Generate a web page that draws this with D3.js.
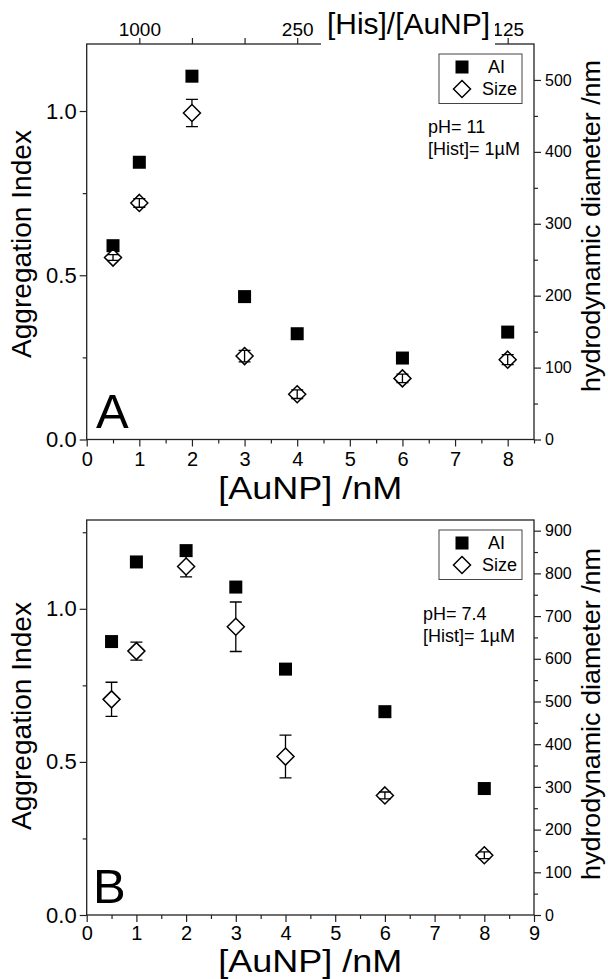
<!DOCTYPE html>
<html>
<head>
<meta charset="utf-8">
<title>Aggregation index and size vs [AuNP]</title>
<script src="https://cdn.jsdelivr.net/npm/d3@7"></script>
<style>
  body { margin: 0; background: #fff; }
  svg text { font-family: 'Liberation Sans', Arial, sans-serif; fill: #000; }
</style>
</head>
<body>
<div id="chart"></div>
<script>
// [AuNP] /nM, shared by both panels
var auNP = [0.5, 1, 2, 3, 4, 6, 8];

// panel A, pH 11
var aiA = [0.59, 0.844, 1.106, 0.435, 0.322, 0.248, 0.327];
var sizeA = [253, 329, 454, 116, 63, 85, 111];
var sizeErrA = [4, 6, 19, 8, 6, 6, 7];

// panel B, pH 7.4
var aiB = [0.893, 1.153, 1.19, 1.071, 0.803, 0.664, 0.413];
var sizeB = [505, 618, 816, 675, 371, 280, 140];
var sizeErrB = [40, 21, 24, 58, 50, 8, 8];

// top axis of A: [His]/[AuNP] with [His] = 1 uM = 1000 nM
var hisConc = 1000;
var hisRatioTicks = [1000, 500, 1000 / 3, 250, 125];
var hisRatioLabels = ["1000", "", "", "250", "125"];

var W = 608, H = 979;
var svg = d3.select("#chart").append("svg")
    .attr("width", W).attr("height", H);

var left = 86.7, right = 534;
var axisColor = "#222";

var panels = [
    { ai: aiA, size: sizeA, err: sizeErrA, top: 44, bottom: 439.5,
      xMax: 8.5, xTicks: d3.range(0, 9), aiMax: 1.204, aiMinor: [0.25, 0.75],
      sizeMax: 550, sizeTicks: d3.range(0, 501, 100), sizeMinor: d3.range(50, 501, 100),
      letter: "A", letterX: 96, letterY: 428, rightTitleY: 226, leftTitleY: 244,
      note: ["pH= 11", "[Hist]= 1\u00b5M"], noteX: 428, noteY: 133,
      xTitleY: 499, xPad: 5, topAxis: true },
    { ai: aiB, size: sizeB, err: sizeErrB, top: 520, bottom: 915,
      xMax: 9, xTicks: d3.range(0, 10), aiMax: 1.29, aiMinor: [0.25, 0.75, 1.25],
      sizeMax: 925, sizeTicks: d3.range(0, 901, 100), sizeMinor: d3.range(50, 901, 100),
      letter: "B", letterX: 93, letterY: 903, rightTitleY: 714, leftTitleY: 716,
      note: ["pH= 7.4", "[Hist]= 1\u00b5M"], noteX: 423, noteY: 620,
      xTitleY: 972, xPad: 4, topAxis: false }
];

function styleAxis(g, size) {
    g.select(".domain").remove();
    g.selectAll(".tick line").attr("stroke", axisColor).attr("stroke-width", 1.2);
    g.selectAll(".tick text").attr("font-size", size);
}

panels.forEach(function(p) {
    var x = d3.scaleLinear().domain([0, p.xMax]).range([left, right]);
    var yL = d3.scaleLinear().domain([0, p.aiMax]).range([p.bottom, p.top]);
    var yR = d3.scaleLinear().domain([0, p.sizeMax]).range([p.bottom, p.top]);
    var g = svg.append("g");

    // frame
    g.append("rect")
        .attr("x", left).attr("y", p.top)
        .attr("width", right - left).attr("height", p.bottom - p.top)
        .attr("fill", "none").attr("stroke", axisColor).attr("stroke-width", 1.3);

    // bottom axis
    g.append("g").attr("transform", "translate(0," + p.bottom + ")")
        .call(d3.axisBottom(x).tickValues(p.xTicks).tickFormat(d3.format("d"))
            .tickSize(7).tickPadding(p.xPad))
        .call(styleAxis, 20);
    g.append("g").attr("transform", "translate(0," + p.bottom + ")")
        .call(d3.axisBottom(x).tickValues(d3.range(0.5, p.xMax + 0.01, 1))
            .tickFormat("").tickSize(4))
        .call(styleAxis, 0);

    // left axis
    g.append("g").attr("transform", "translate(" + left + ",0)")
        .call(d3.axisLeft(yL).tickValues([0, 0.5, 1]).tickFormat(d3.format(".1f"))
            .tickSize(7).tickPadding(3))
        .call(styleAxis, 22);
    g.append("g").attr("transform", "translate(" + left + ",0)")
        .call(d3.axisLeft(yL).tickValues(p.aiMinor).tickFormat("").tickSize(4))
        .call(styleAxis, 0);

    // right axis
    g.append("g").attr("transform", "translate(" + right + ",0)")
        .call(d3.axisRight(yR).tickValues(p.sizeTicks).tickFormat(d3.format("d"))
            .tickSize(7).tickPadding(4))
        .call(styleAxis, 16);
    g.append("g").attr("transform", "translate(" + right + ",0)")
        .call(d3.axisRight(yR).tickValues(p.sizeMinor).tickFormat("").tickSize(4))
        .call(styleAxis, 0);

    // top axis: [His]/[AuNP]
    if (p.topAxis) {
        g.append("g").attr("transform", "translate(0," + p.top + ")")
            .call(d3.axisTop(x).tickValues(hisRatioTicks.map(function(r) { return hisConc / r; }))
                .tickFormat(function(d, i) { return hisRatioLabels[i]; })
                .tickSize(6).tickPadding(2))
            .call(styleAxis, 19);
        g.append("rect")
            .attr("x", 321).attr("y", 10).attr("width", 174).attr("height", 38)
            .attr("fill", "#fff");
        g.append("text")
            .attr("x", 327).attr("y", 34)
            .attr("font-size", 30)
            .attr("textLength", 163).attr("lengthAdjust", "spacingAndGlyphs")
            .text("[His]/[AuNP]");
    }

    // AI squares
    var sq = 13;
    g.selectAll(".ai").data(auNP).enter().append("rect")
        .attr("class", "ai")
        .attr("x", function(d) { return x(d) - sq / 2; })
        .attr("y", function(d, i) { return yL(p.ai[i]) - sq / 2; })
        .attr("width", sq).attr("height", sq)
        .attr("fill", "#000");

    // size diamonds
    var hd = 8.5;
    var diamond = function(cx, cy) {
        return "M" + cx + "," + (cy - hd) + "L" + (cx + hd) + "," + cy +
               "L" + cx + "," + (cy + hd) + "L" + (cx - hd) + "," + cy + "Z";
    };
    g.selectAll(".size").data(auNP).enter().append("path")
        .attr("class", "size")
        .attr("d", function(d, i) { return diamond(x(d), yR(p.size[i])); })
        .attr("fill", "#fff").attr("stroke", "#000").attr("stroke-width", 1.5);

    // error bars, drawn from the marker edge like Origin does
    var eg = g.selectAll(".err").data(auNP).enter().append("g").attr("class", "err");
    eg.append("path")
        .attr("d", function(d, i) {
            var cx = x(d), cy = yR(p.size[i]);
            var t = yR(p.size[i] + p.err[i]), b = yR(p.size[i] - p.err[i]);
            var line;
            if (cy - t > hd) {
                line = "M" + cx + "," + t + "V" + (cy - hd) + "M" + cx + "," + (cy + hd) + "V" + b;
            } else {
                line = "M" + cx + "," + t + "V" + b;
            }
            return line + "M" + (cx - 6) + "," + t + "H" + (cx + 6) +
                   "M" + (cx - 6) + "," + b + "H" + (cx + 6);
        })
        .attr("fill", "none").attr("stroke", "#000").attr("stroke-width", 1.3);

    // legend
    var lt = p.top + 10;
    g.append("rect")
        .attr("x", 439).attr("y", lt).attr("width", 83).attr("height", 49.5)
        .attr("fill", "#fff").attr("stroke", "#444").attr("stroke-width", 1);
    g.append("rect")
        .attr("x", 462 - sq / 2).attr("y", lt + 13 - sq / 2)
        .attr("width", sq).attr("height", sq).attr("fill", "#000");
    g.append("path")
        .attr("d", diamond(462, lt + 35))
        .attr("fill", "#fff").attr("stroke", "#000").attr("stroke-width", 1.5);
    g.append("text").attr("x", 488).attr("y", lt + 19).attr("font-size", 18).text("AI");
    g.append("text").attr("x", 482).attr("y", lt + 41).attr("font-size", 18).text("Size");

    // conditions
    g.append("text").attr("x", p.noteX).attr("y", p.noteY).attr("font-size", 18).text(p.note[0]);
    g.append("text").attr("x", p.noteX).attr("y", p.noteY + 22).attr("font-size", 18).text(p.note[1]);

    // panel letter
    g.append("text").attr("x", p.letterX).attr("y", p.letterY)
        .attr("font-size", 49).text(p.letter);

    // axis titles
    g.append("text")
        .attr("x", (left + right) / 2).attr("y", p.xTitleY)
        .attr("text-anchor", "middle").attr("font-size", 31)
        .attr("textLength", 184).attr("lengthAdjust", "spacingAndGlyphs")
        .text("[AuNP] /nM");
    g.append("text")
        .attr("transform", "translate(31," + p.leftTitleY + ") rotate(-90)")
        .attr("text-anchor", "middle").attr("font-size", 27)
        .attr("textLength", 228).attr("lengthAdjust", "spacingAndGlyphs")
        .text("Aggregation Index");
    g.append("text")
        .attr("transform", "translate(600," + p.rightTitleY + ") rotate(-90)")
        .attr("text-anchor", "middle").attr("font-size", 25)
        .attr("textLength", 332).attr("lengthAdjust", "spacingAndGlyphs")
        .text("hydrodynamic diameter /nm");
});
</script>
</body>
</html>
